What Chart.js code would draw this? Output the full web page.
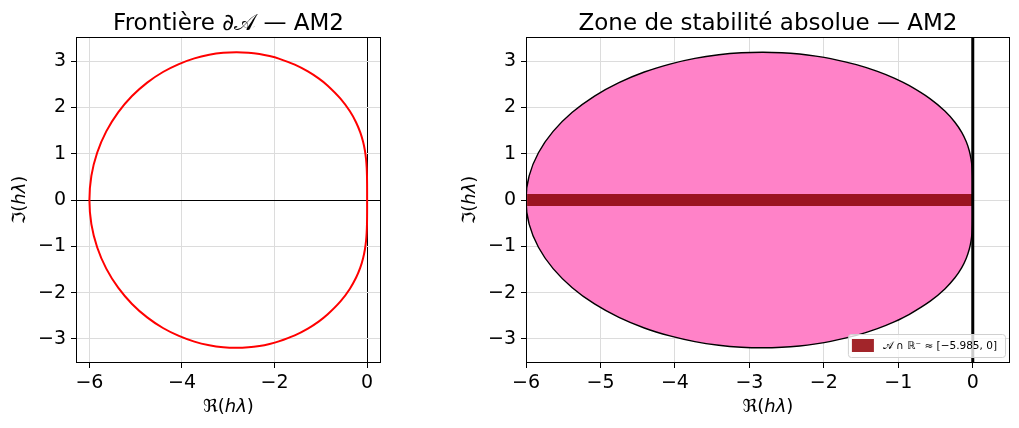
<!DOCTYPE html>
<html>
<head>
<meta charset="utf-8">
<script src="https://cdn.jsdelivr.net/npm/chart.js@4.4.1/dist/chart.umd.min.js"></script>
<style>
  body { margin: 0; background: #fff; width: 1019px; height: 428px; overflow: hidden; position: relative; }
  canvas { position: absolute; top: 0; }
  #left { left: 0; }
  #right { left: 460px; }
</style>
</head>
<body>
<canvas id="left" width="460" height="428"></canvas>
<canvas id="right" width="559" height="428"></canvas>
<script>
// boundary locus, upper half, lower half is the mirror image
var reUpper = [0, -0.0000, -0.0006, -0.003, -0.0096, -0.023, -0.047, -0.087, -0.148, -0.240,
  -0.375, -0.571, -0.857, -1.048, -1.280, -1.563, -1.908, -2.107, -2.326, -2.565,
  -2.826, -3.108, -3.411, -3.732, -4.067, -4.411, -4.752, -5.080, -5.379, -5.636,
  -5.833, -5.958, -6.0];
var imUpper = [0, 0.175, 0.349, 0.524, 0.701, 0.880, 1.064, 1.256, 1.460, 1.680,
  1.921, 2.185, 2.474, 2.626, 2.777, 2.923, 3.053, 3.108, 3.152, 3.181,
  3.192, 3.179, 3.136, 3.058, 2.935, 2.764, 2.535, 2.245, 1.893, 1.482,
  1.020, 0.520, 0];

// stable interval on the negative real axis
var bandRe = [-5.985, 0];
var bandIm = [0, 0];
var bandLabel = '𝒜 ∩ ℝ⁻ ≈ [−5.985, 0]';

var leftTitle = 'Frontière ∂𝒜 — AM2';
var rightTitle = 'Zone de stabilité absolue — AM2';
// axis labels as [upright, italic, upright] pieces
var xLabel = ['ℜ(', 'hλ', ')'];
var yLabel = ['ℑ(', 'hλ', ')'];

var loop = [];
for (var i = 0; i < reUpper.length; i++) loop.push({x: reUpper[i], y: imUpper[i]});
for (var j = reUpper.length - 2; j >= 0; j--) loop.push({x: reUpper[j], y: -imUpper[j]});

// halves ordered left to right, for filling down/up to the real axis
var upper = [], lower = [];
for (var k = reUpper.length - 1; k >= 0; k--) {
  upper.push({x: reUpper[k], y: imUpper[k]});
  lower.push({x: reUpper[k], y: -imUpper[k]});
}

var band = bandRe.map(function (x, n) { return {x: x, y: bandIm[n]}; });

var FONT = "'DejaVu Sans', sans-serif";
Chart.defaults.font.family = FONT;
Chart.defaults.color = '#000';

function fmt(v) { return v < 0 ? '\u2212' + Math.abs(v) : '' + v; }

function mathLabel(ctx, parts, cx, cy) {
  var fonts = ['18px ' + FONT, 'italic 18px ' + FONT, '18px ' + FONT];
  var widths = parts.map(function (p, n) { ctx.font = fonts[n]; return ctx.measureText(p).width; });
  var total = widths.reduce(function (s, w) { return s + w; }, 0);
  var x = cx - total / 2;
  ctx.textAlign = 'left';
  ctx.textBaseline = 'middle';
  parts.forEach(function (p, n) { ctx.font = fonts[n]; ctx.fillText(p, x, cy); x += widths[n]; });
}

// frame + titles, drawn like matplotlib
var frame = {
  id: 'frame',
  afterDraw: function (chart, args, opts) {
    var a = chart.chartArea, ctx = chart.ctx;
    ctx.save();
    if (opts.zeroLine) {
      var px = chart.scales.x.getPixelForValue(0);
      ctx.strokeStyle = '#000';
      ctx.lineWidth = 3;
      ctx.beginPath(); ctx.moveTo(px, a.top); ctx.lineTo(px, a.bottom); ctx.stroke();
    }
    if (opts.legend) {
      ctx.font = '10.5px ' + FONT;
      var tw = ctx.measureText(opts.legend).width;
      var w = tw + 43, h = 23;
      var x0 = a.right - 5 - w, y0 = a.bottom - 6 - h;
      ctx.fillStyle = 'rgba(255,255,255,0.8)';
      ctx.strokeStyle = '#d0d0d0';
      ctx.lineWidth = 1;
      ctx.beginPath();
      ctx.roundRect(x0 + 0.5, y0 + 0.5, w, h, 3);
      ctx.fill(); ctx.stroke();
      ctx.fillStyle = '#a2252a';
      ctx.fillRect(x0 + 4, y0 + 5, 22, 13);
      ctx.fillStyle = '#000';
      ctx.textBaseline = 'middle';
      ctx.fillText(opts.legend, x0 + 35, y0 + h / 2 + 1);
    }
    ctx.strokeStyle = '#000';
    ctx.lineWidth = 1;
    ctx.strokeRect(Math.round(a.left) + 0.5, Math.round(a.top) + 0.5,
      Math.round(a.right - a.left) - 1, Math.round(a.bottom - a.top) - 1);
    ctx.fillStyle = '#000';
    ctx.font = '23px ' + FONT;
    ctx.textAlign = 'center';
    ctx.textBaseline = 'alphabetic';
    ctx.fillText(opts.title, (a.left + a.right) / 2, 30);
    // axis labels
    mathLabel(ctx, xLabel, (a.left + a.right) / 2, a.bottom + 44);
    ctx.translate(a.left - 56, (a.top + a.bottom) / 2);
    ctx.rotate(-Math.PI / 2);
    mathLabel(ctx, yLabel, 0, 0);
    ctx.restore();
  }
};

function axes(xmin, xmax, xstep, yw, leftZero) {
  return {
    x: {
      type: 'linear', min: xmin, max: xmax,
      afterFit: function (s) { s.height = 65; },
      ticks: { stepSize: xstep, includeBounds: false, font: {size: 19}, padding: 4, callback: fmt, maxRotation: 0 },
      grid: {
        color: function (c) { return leftZero && c.tick && c.tick.value === 0 ? '#000' : '#dcdcdc'; },
        tickColor: '#000', tickLength: 5, lineWidth: 1
      },
      border: { display: false }
    },
    y: {
      type: 'linear', min: -3.52, max: 3.52,
      afterFit: function (s) { s.width = yw; },
      ticks: { stepSize: 1, includeBounds: false, font: {size: 19}, padding: 5, callback: fmt },
      grid: {
        color: function (c) { return leftZero && c.tick && c.tick.value === 0 ? '#000' : '#dcdcdc'; },
        tickColor: '#000', tickLength: 5, lineWidth: 1
      },
      border: { display: false }
    }
  };
}

new Chart(document.getElementById('left'), {
  type: 'line',
  data: { datasets: [{
    data: loop, borderColor: '#ff0000', borderWidth: 2,
    pointRadius: 0, fill: false, tension: 0.3
  }]},
  options: {
    responsive: false, animation: false, devicePixelRatio: 1,
    layout: { padding: { top: 37, right: 79, bottom: 0, left: 0 } },
    plugins: { legend: {display: false}, tooltip: {enabled: false},
      frame: { title: leftTitle } },
    scales: axes(-6.29, 0.30, 2, 76, true)
  },
  plugins: [frame]
});

new Chart(document.getElementById('right'), {
  type: 'line',
  data: { datasets: [
    { data: band, borderColor: '#9b1421', borderWidth: 12,
      borderCapStyle: 'butt', pointRadius: 0, fill: false, order: 0 },
    { data: loop, borderColor: '#000', borderWidth: 1.4,
      pointRadius: 0, fill: false, tension: 0.3, order: 1 },
    { data: upper, borderWidth: 0, borderColor: 'rgba(0,0,0,0)',
      backgroundColor: '#ff82c8', pointRadius: 0, fill: 'origin', tension: 0.3, order: 2 },
    { data: lower, borderWidth: 0, borderColor: 'rgba(0,0,0,0)',
      backgroundColor: '#ff82c8', pointRadius: 0, fill: 'origin', tension: 0.3, order: 2 }
  ]},
  options: {
    responsive: false, animation: false, devicePixelRatio: 1,
    layout: { padding: { top: 37, right: 9, bottom: 0, left: 0 } },
    plugins: { legend: {display: false}, tooltip: {enabled: false},
      filler: { propagate: false },
      frame: { title: rightTitle, zeroLine: true, legend: bandLabel } },
    scales: axes(-6, 0.5, 1, 66, false)
  },
  plugins: [frame]
});
</script>
</body>
</html>
